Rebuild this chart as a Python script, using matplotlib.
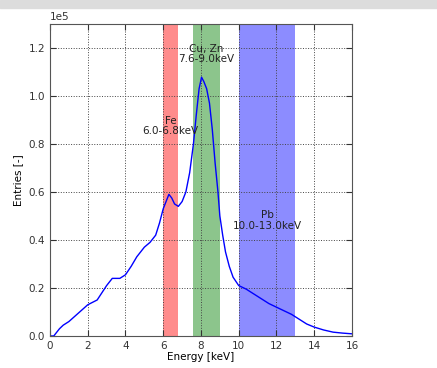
import numpy as np
import matplotlib.pyplot as plt
from matplotlib.patches import Rectangle

# spectrum (energy in keV, entries)
energy = [0, 0.2, 0.5, 0.7, 1.0, 1.5, 2.0, 2.5, 3.0, 3.3, 3.7, 4.0, 4.3, 4.6,
          5.0, 5.3, 5.6, 5.8, 6.0, 6.15, 6.3, 6.45, 6.6, 6.8, 7.0, 7.2, 7.4,
          7.6, 7.75, 7.9, 8.03, 8.15, 8.3, 8.45, 8.6, 8.75, 8.9, 9.0, 9.15,
          9.3, 9.5, 9.7, 10.0, 10.4, 10.8, 11.2, 11.6, 12.0, 12.4, 12.8, 13.2,
          13.6, 14.0, 14.5, 15.0, 15.5, 16.0]
entries = [0, 0, 3000, 4500, 6000, 9500, 13000, 15000, 21000, 24000, 24000,
           25500, 29000, 33000, 37000, 39000, 42000, 47000, 53000, 56000,
           59000, 57500, 55000, 54000, 56000, 60000, 68000, 80000, 92000,
           103000, 107800, 106000, 103000, 97000, 86000, 72000, 60000, 50000,
           42000, 35000, 29000, 24500, 21000, 19500, 17500, 15500, 13500,
           12000, 10500, 9000, 7000, 5000, 3700, 2500, 1600, 1200, 900]

# element windows
band_labels = ['Fe\n6.0-6.8keV', 'Cu, Zn\n7.6-9.0keV', 'Pb\n10.0-13.0keV']
band_lo = [6.0, 7.6, 10.0]
band_hi = [6.8, 9.0, 13.0]
band_colors = ['r', 'g', 'b']
label_pos = [(6.4, 0.875e5), (8.3, 1.175e5), (11.5, 0.48e5)]

fig = plt.figure(figsize=(4.37, 3.68), dpi=100)
# slide header strip
fig.patches.append(Rectangle((0, 0.978), 1, 0.022, transform=fig.transFigure,
                             color='#dcdcdc', zorder=0))
ax = fig.add_axes([0.1144, 0.087, 0.691, 0.848])

ax.plot(energy, entries, color='b', lw=1)
for lo, hi, c in zip(band_lo, band_hi, band_colors):
    ax.axvspan(lo, hi, color=c, alpha=0.45, lw=0)
for txt, (x, y) in zip(band_labels, label_pos):
    ax.text(x, y, txt, ha='center', va='center', fontsize=7.5, color='#222222',
            linespacing=1.1)

ax.set_xlim(0, 16)
ax.set_ylim(0, 1.3e5)
ax.set_xticks(np.arange(0, 17, 2))
ax.set_yticks(np.arange(0, 1.3e5, 0.2e5))
ax.ticklabel_format(axis='y', style='sci', scilimits=(0, 0))
ax.grid(True, linestyle=':', color='#444444', lw=0.7)
ax.tick_params(direction='in', top=True, right=True, labelsize=7.5,
               colors='#333333', length=4)
ax.yaxis.get_offset_text().set_fontsize(7.5)
for s in ax.spines.values():
    s.set_color('#555555')
ax.set_xlabel('Energy [keV]', fontsize=7.5, labelpad=1)
ax.set_ylabel('Entries [-]', fontsize=7.5, labelpad=4)

plt.savefig('out.png', dpi=100)
